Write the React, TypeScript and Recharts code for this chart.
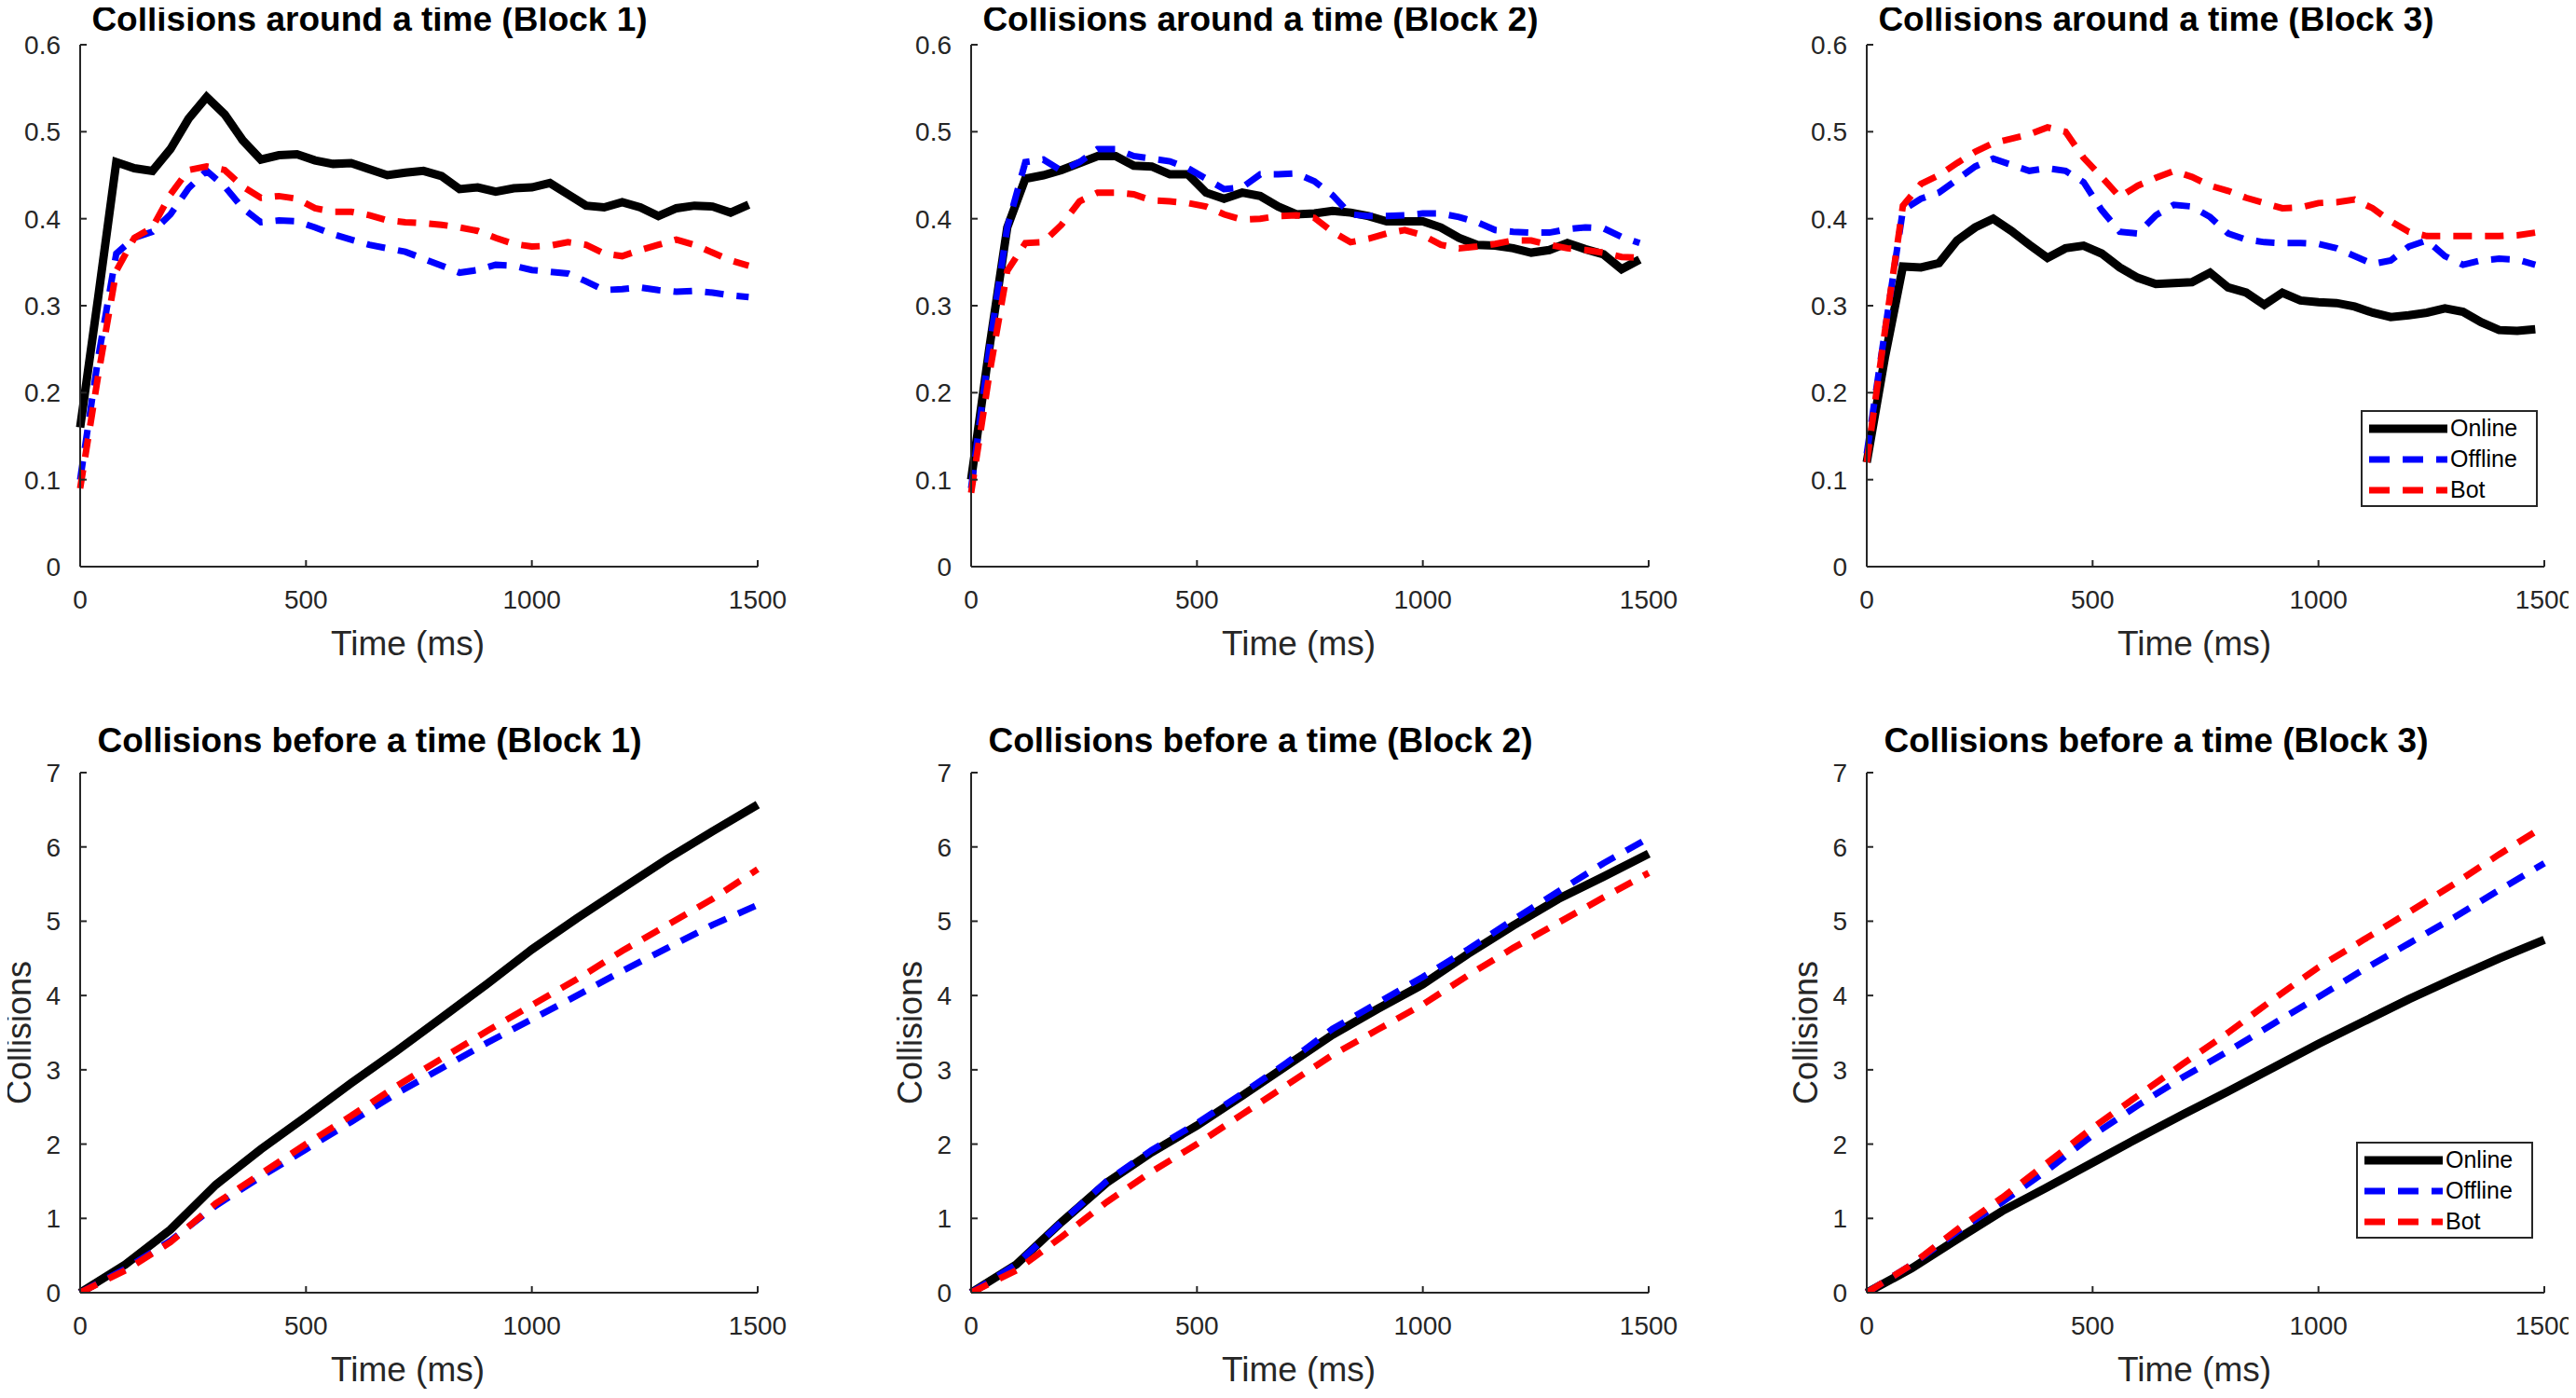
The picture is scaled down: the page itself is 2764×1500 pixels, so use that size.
import { LineChart, Line, XAxis, YAxis, Legend, Label } from "recharts";

// "Collisions around a time" is sampled every 40 ms, "before a time" every 100 ms
const TIMES_AROUND = [
  0, 40, 80, 120, 160, 200, 240, 280, 320, 360, 400, 440, 480, 520, 560, 600, 640, 680, 720,
  760, 800, 840, 880, 920, 960, 1000, 1040, 1080, 1120, 1160, 1200, 1240, 1280, 1320, 1360,
  1400, 1440, 1480,
];
const TIMES_BEFORE = [0, 100, 200, 300, 400, 500, 600, 700, 800, 900, 1000, 1100, 1200, 1300, 1400, 1500];

const TIME_TICKS = [0, 500, 1000, 1500];
const AROUND_TICKS = [0, 0.1, 0.2, 0.3, 0.4, 0.5, 0.6];
const BEFORE_TICKS = [0, 1, 2, 3, 4, 5, 6, 7];

const ONLINE_AROUND_B1 = [0.16, 0.31, 0.465, 0.458, 0.455, 0.48, 0.515, 0.54, 0.52, 0.49, 0.468, 0.473, 0.474, 0.467, 0.463, 0.464, 0.457, 0.45, 0.453, 0.455, 0.449, 0.434, 0.436, 0.431, 0.435, 0.436, 0.441, 0.428, 0.415, 0.413, 0.419, 0.413, 0.403, 0.412, 0.415, 0.414, 0.407, 0.416];
const OFFLINE_AROUND_B1 = [0.1, 0.24, 0.36, 0.378, 0.385, 0.405, 0.435, 0.455, 0.437, 0.412, 0.396, 0.398, 0.397, 0.39, 0.382, 0.376, 0.37, 0.366, 0.362, 0.354, 0.346, 0.338, 0.341, 0.347, 0.346, 0.341, 0.339, 0.337, 0.328, 0.318, 0.319, 0.321, 0.318, 0.316, 0.317, 0.315, 0.312, 0.31];
const BOT_AROUND_B1 = [0.09, 0.22, 0.34, 0.378, 0.39, 0.428, 0.456, 0.46, 0.456, 0.437, 0.424, 0.426, 0.423, 0.412, 0.408, 0.408, 0.404, 0.398, 0.396, 0.395, 0.393, 0.39, 0.386, 0.378, 0.371, 0.368, 0.369, 0.373, 0.37, 0.36, 0.357, 0.364, 0.37, 0.376, 0.37, 0.361, 0.352, 0.346];

const ONLINE_AROUND_B2 = [0.1, 0.25, 0.39, 0.446, 0.45, 0.456, 0.464, 0.472, 0.472, 0.461, 0.46, 0.451, 0.451, 0.43, 0.423, 0.43, 0.426, 0.414, 0.405, 0.406, 0.409, 0.407, 0.403, 0.397, 0.397, 0.397, 0.39, 0.378, 0.37, 0.369, 0.366, 0.361, 0.364, 0.372, 0.365, 0.359, 0.342, 0.353];
const OFFLINE_AROUND_B2 = [0.09, 0.25, 0.39, 0.465, 0.468, 0.455, 0.465, 0.48, 0.48, 0.472, 0.469, 0.466, 0.458, 0.446, 0.434, 0.436, 0.451, 0.451, 0.452, 0.443, 0.427, 0.405, 0.403, 0.403, 0.404, 0.406, 0.406, 0.402, 0.396, 0.387, 0.385, 0.384, 0.384, 0.388, 0.39, 0.389, 0.379, 0.372];
const BOT_AROUND_B2 = [0.085, 0.22, 0.34, 0.372, 0.373, 0.393, 0.42, 0.43, 0.43, 0.428, 0.421, 0.42, 0.418, 0.414, 0.405, 0.399, 0.4, 0.403, 0.404, 0.401, 0.385, 0.373, 0.377, 0.383, 0.387, 0.381, 0.37, 0.366, 0.368, 0.371, 0.375, 0.375, 0.37, 0.366, 0.364, 0.361, 0.356, 0.355];

const ONLINE_AROUND_B3 = [0.12, 0.24, 0.345, 0.344, 0.349, 0.375, 0.39, 0.4, 0.386, 0.37, 0.355, 0.366, 0.369, 0.36, 0.344, 0.332, 0.325, 0.326, 0.327, 0.338, 0.321, 0.315, 0.301, 0.315, 0.306, 0.304, 0.303, 0.299, 0.292, 0.287, 0.289, 0.292, 0.297, 0.293, 0.281, 0.272, 0.271, 0.273];
const OFFLINE_AROUND_B3 = [0.13, 0.27, 0.41, 0.423, 0.43, 0.445, 0.46, 0.469, 0.462, 0.455, 0.458, 0.455, 0.442, 0.41, 0.385, 0.383, 0.404, 0.416, 0.414, 0.402, 0.383, 0.376, 0.373, 0.372, 0.372, 0.371, 0.366, 0.357, 0.348, 0.352, 0.368, 0.375, 0.357, 0.347, 0.352, 0.354, 0.353, 0.347];
const BOT_AROUND_B3 = [0.12, 0.27, 0.415, 0.44, 0.45, 0.464, 0.477, 0.487, 0.492, 0.497, 0.505, 0.5, 0.47, 0.448, 0.425, 0.438, 0.447, 0.455, 0.448, 0.438, 0.432, 0.424, 0.418, 0.412, 0.413, 0.418, 0.419, 0.422, 0.412, 0.397, 0.385, 0.38, 0.38, 0.38, 0.38, 0.38, 0.381, 0.384];

const ONLINE_BEFORE_B1 = [0, 0.38, 0.85, 1.45, 1.93, 2.37, 2.82, 3.25, 3.7, 4.15, 4.62, 5.04, 5.44, 5.84, 6.21, 6.57];
const OFFLINE_BEFORE_B1 = [0, 0.32, 0.7, 1.17, 1.56, 1.93, 2.3, 2.68, 3.02, 3.36, 3.68, 4.0, 4.33, 4.64, 4.95, 5.22];
const BOT_BEFORE_B1 = [0, 0.3, 0.68, 1.2, 1.6, 2.0, 2.38, 2.78, 3.15, 3.52, 3.87, 4.22, 4.6, 4.95, 5.3, 5.7];

const ONLINE_BEFORE_B2 = [0, 0.38, 0.95, 1.48, 1.89, 2.25, 2.65, 3.06, 3.47, 3.82, 4.15, 4.56, 4.94, 5.3, 5.6, 5.91];
const OFFLINE_BEFORE_B2 = [0, 0.38, 0.95, 1.5, 1.92, 2.28, 2.68, 3.1, 3.55, 3.9, 4.25, 4.62, 5.02, 5.4, 5.78, 6.12];
const BOT_BEFORE_B2 = [0, 0.3, 0.75, 1.22, 1.63, 2.0, 2.4, 2.8, 3.2, 3.54, 3.88, 4.27, 4.64, 4.98, 5.32, 5.65];

const ONLINE_BEFORE_B3 = [0, 0.33, 0.72, 1.1, 1.42, 1.75, 2.08, 2.4, 2.71, 3.03, 3.35, 3.65, 3.95, 4.23, 4.5, 4.75];
const OFFLINE_BEFORE_B3 = [0, 0.38, 0.82, 1.22, 1.65, 2.12, 2.52, 2.9, 3.25, 3.62, 3.98, 4.35, 4.7, 5.05, 5.42, 5.78];
const BOT_BEFORE_B3 = [0, 0.38, 0.85, 1.28, 1.75, 2.22, 2.65, 3.08, 3.5, 3.95, 4.38, 4.75, 5.12, 5.5, 5.9, 6.28];

const FONT = '"Liberation Sans", Arial, Helvetica, sans-serif';
const AXIS = "#262626";

const SERIES = [
  { key: "online", name: "Online", color: "#000000", width: 9, dash: undefined },
  { key: "offline", name: "Offline", color: "#0000ff", width: 7, dash: "20 14" },
  { key: "bot", name: "Bot", color: "#ff0000", width: 7, dash: "20 14" },
];

// plot-area geometry in page pixels (the wrapper cancels the body margin)
const PLOT_LEFT = [86, 1042, 2003];
const PLOT_W = 727;
const Y_AXIS_W = 100;
const TOP_MARGIN = 30;
const RIGHT_MARGIN = 34;
const X_AXIS_H = 104;

// the figure fills the window exactly; keep scrollbars from eating its right edge
if (typeof document !== "undefined") {
  document.documentElement.style.overflow = "hidden";
  document.body.style.overflow = "hidden";
}

function buildRows(times: number[], online: number[], offline: number[], bot: number[]) {
  return times.map((t, i) => ({ t, online: online[i], offline: offline[i], bot: bot[i] }));
}

function LegendBox() {
  return (
    <div
      style={{
        width: 190,
        height: 104,
        boxSizing: "border-box",
        border: `2px solid ${AXIS}`,
        background: "#fff",
        paddingTop: 1,
      }}
    >
      {SERIES.map((s) => (
        <div key={s.key} style={{ display: "flex", alignItems: "center", height: 33 }}>
          <svg width={94} height={20} style={{ display: "block" }}>
            <line
              x1={7}
              x2={91}
              y1={10}
              y2={10}
              stroke={s.color}
              strokeWidth={s.width}
              strokeDasharray={s.dash ? "22 14" : undefined}
            />
          </svg>
          <span style={{ fontFamily: FONT, fontSize: 25, color: "#000", lineHeight: "25px" }}>{s.name}</span>
        </div>
      ))}
    </div>
  );
}

function TimeLabel(props: any) {
  const vb = props.viewBox || {};
  return (
    <text
      x={vb.x + vb.width / 2 - 12}
      y={vb.y + 95}
      textAnchor="middle"
      fill={AXIS}
      fontSize={37}
      fontFamily={FONT}
    >
      Time (ms)
    </text>
  );
}

type PanelProps = {
  col: number;
  plotTop: number;
  plotH: number;
  title: string;
  titleY: number;
  rows: { t: number; online: number; offline: number; bot: number }[];
  yTicks: number[];
  yMax: number;
  yLabel?: string;
  legendTop?: number;
  legendLeft?: number;
};

function Panel({ col, plotTop, plotH, title, titleY, rows, yTicks, yMax, yLabel, legendTop, legendLeft }: PanelProps) {
  const left = PLOT_LEFT[col] - Y_AXIS_W;
  const top = plotTop - TOP_MARGIN;
  const width = Y_AXIS_W + PLOT_W + RIGHT_MARGIN;
  const height = TOP_MARGIN + plotH + X_AXIS_H;
  const titleCenter = PLOT_LEFT[col] + PLOT_W / 2 - 53;
  const tickStyle = { fill: AXIS, fontSize: 28, fontFamily: FONT };
  return (
    <>
      <div
        style={{
          position: "absolute",
          left: titleCenter - 400,
          width: 800,
          top: titleY - 20,
          height: 40,
          lineHeight: "40px",
          textAlign: "center",
          fontFamily: FONT,
          fontWeight: "bold",
          fontSize: 37,
          color: "#000",
          whiteSpace: "nowrap",
        }}
      >
        {title}
      </div>
      <div style={{ position: "absolute", left, top }}>
        <LineChart
          width={width}
          height={height}
          data={rows}
          margin={{ top: TOP_MARGIN, right: RIGHT_MARGIN, bottom: 0, left: 0 }}
        >
          <XAxis
            dataKey="t"
            type="number"
            domain={[0, 1500]}
            ticks={TIME_TICKS}
            interval={0}
            height={X_AXIS_H}
            tick={tickStyle}
            tickSize={-7}
            tickMargin={32}
            axisLine={{ stroke: AXIS, strokeWidth: 2 }}
            tickLine={{ stroke: AXIS, strokeWidth: 2 }}
          >
            <Label content={TimeLabel} />
          </XAxis>
          <YAxis
            type="number"
            domain={[0, yMax]}
            ticks={yTicks}
            interval={0}
            width={Y_AXIS_W}
            tick={tickStyle}
            tickSize={-7}
            tickMargin={28}
            axisLine={{ stroke: AXIS, strokeWidth: 2 }}
            tickLine={{ stroke: AXIS, strokeWidth: 2 }}
            allowDataOverflow
          >
            {yLabel ? (
              <Label
                value={yLabel}
                angle={-90}
                position="insideLeft"
                offset={Y_AXIS_W - 66}
                style={{ fill: AXIS, fontSize: 36, fontFamily: FONT, textAnchor: "middle" }}
              />
            ) : null}
          </YAxis>
          {SERIES.map((s) => (
            <Line
              key={s.key}
              type="linear"
              dataKey={s.key}
              name={s.name}
              stroke={s.color}
              strokeWidth={s.width}
              strokeDasharray={s.dash}
              dot={false}
              activeDot={false}
              isAnimationActive={false}
            />
          ))}
          {legendTop !== undefined ? (
            <Legend
              layout="vertical"
              align="center"
              verticalAlign="middle"
              wrapperStyle={{ left: legendLeft, top: legendTop, width: 190, height: 104 }}
              content={() => <LegendBox />}
            />
          ) : null}
        </LineChart>
      </div>
    </>
  );
}

export default function App() {
  return (
    <div
      style={{
        position: "relative",
        margin: "-8px -8px -8px -8px",
        width: 2764,
        height: 1500,
        background: "#fff",
        overflow: "hidden",
      }}
    >
      <Panel col={0} plotTop={48} plotH={560} title="Collisions around a time (Block 1)" titleY={21}
        rows={buildRows(TIMES_AROUND, ONLINE_AROUND_B1, OFFLINE_AROUND_B1, BOT_AROUND_B1)}
        yTicks={AROUND_TICKS} yMax={0.6} />
      <Panel col={1} plotTop={48} plotH={560} title="Collisions around a time (Block 2)" titleY={21}
        rows={buildRows(TIMES_AROUND, ONLINE_AROUND_B2, OFFLINE_AROUND_B2, BOT_AROUND_B2)}
        yTicks={AROUND_TICKS} yMax={0.6} />
      <Panel col={2} plotTop={48} plotH={560} title="Collisions around a time (Block 3)" titleY={21}
        rows={buildRows(TIMES_AROUND, ONLINE_AROUND_B3, OFFLINE_AROUND_B3, BOT_AROUND_B3)}
        yTicks={AROUND_TICKS} yMax={0.6} legendLeft={630} legendTop={422} />
      <Panel col={0} plotTop={829} plotH={558} title="Collisions before a time (Block 1)" titleY={795}
        rows={buildRows(TIMES_BEFORE, ONLINE_BEFORE_B1, OFFLINE_BEFORE_B1, BOT_BEFORE_B1)}
        yTicks={BEFORE_TICKS} yMax={7} yLabel="Collisions" />
      <Panel col={1} plotTop={829} plotH={558} title="Collisions before a time (Block 2)" titleY={795}
        rows={buildRows(TIMES_BEFORE, ONLINE_BEFORE_B2, OFFLINE_BEFORE_B2, BOT_BEFORE_B2)}
        yTicks={BEFORE_TICKS} yMax={7} yLabel="Collisions" />
      <Panel col={2} plotTop={829} plotH={558} title="Collisions before a time (Block 3)" titleY={795}
        rows={buildRows(TIMES_BEFORE, ONLINE_BEFORE_B3, OFFLINE_BEFORE_B3, BOT_BEFORE_B3)}
        yTicks={BEFORE_TICKS} yMax={7} yLabel="Collisions" legendLeft={625} legendTop={426} />
    </div>
  );
}
